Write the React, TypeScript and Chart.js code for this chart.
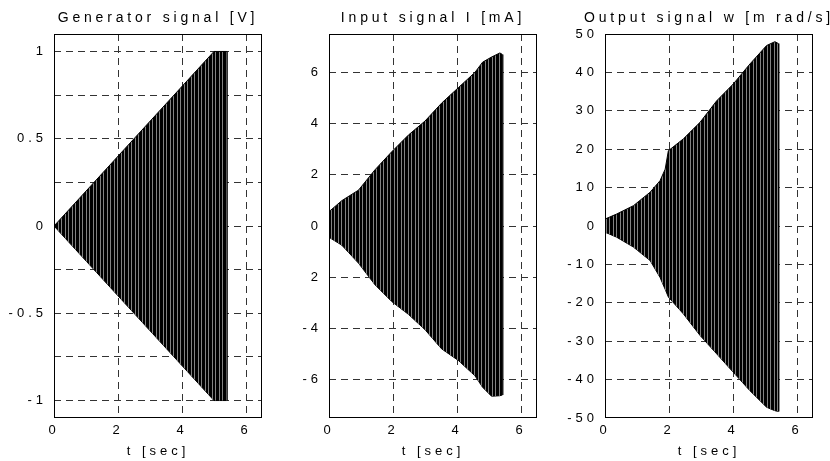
import React, { useEffect, useRef } from 'react';
import { Chart, registerables } from 'chart.js';

Chart.register(...registerables);

// ---------- data ----------
const timeTicks = [0, 2, 4, 6];
const timeTickLabels = ['0', '2', '4', '6'];

// Generator signal [V] : envelope of the oscillation
const genTime = [0, 5.0, 5.4];
const genUpper = [0, 1.0, 1.0];
const genLower = [0, -1.0, -1.0];
const genTicks = [-1, -0.75, -0.5, -0.25, 0, 0.25, 0.5, 0.75, 1];
const genTickLabels = ['-1', '', '-0.5', '', '0', '', '0.5', '', '1'];

// Input signal I [mA]
const inTime = [0, 0.4, 0.92, 1.44, 1.96, 2.48, 3.0, 3.52, 4.04, 4.56, 4.8, 5.08, 5.34, 5.42];
const inUpper = [0.56, 0.99, 1.4, 2.2, 2.9, 3.55, 4.1, 4.8, 5.4, 6.0, 6.4, 6.6, 6.76, 6.7];
const inLower = [-0.44, -0.75, -1.45, -2.3, -2.95, -3.45, -4.05, -4.8, -5.25, -5.85, -6.3, -6.65, -6.63, -6.6];
const inTicks = [-6, -4, -2, 0, 2, 4, 6];
const inTickLabels = ['-6', '-4', '2', '0', '2', '4', '6'];

// Output signal w [m rad/s]
const outTime = [0, 0.36, 0.89, 1.41, 1.72, 1.88, 1.98, 2.45, 2.97, 3.49, 4.01, 4.53, 5.05, 5.31, 5.42];
const outUpper = [1.8, 3.1, 5.3, 8.8, 11.8, 14.8, 19.6, 22.7, 27.0, 32.6, 37.0, 42.2, 47.0, 48.0, 47.5];
const outLower = [-1.6, -2.9, -5.5, -9.0, -13.4, -16.5, -18.5, -22.9, -28.5, -33.3, -38.1, -42.9, -47.2, -48.1, -48.3];
const outTicks = [-50, -40, -30, -20, -10, 0, 10, 20, 30, 40, 50];
const outTickLabels = ['-50', '-40', '-30', '-20', '-10', '0', '10', '20', '30', '40', '50'];

const FONT = '"Liberation Sans", Arial, sans-serif';
const FONT_SIZE = 13;
const SPACING = '4px';
const TITLE_SIZE = 14;
const TITLE_SPACING = 3.8;
const GRID = '#333';

type PanelCfg = {
  title: string;
  time: number[];
  upper: number[];
  lower: number[];
  yMin: number;
  yMax: number;
  yTicks: number[];
  yLabels: string[];
  canvasLeft: number;
  canvasWidth: number;
  plotLeft: number;
  plotRight: number;
};

const PLOT_TOP = 34;
const PLOT_BOTTOM = 418;
const H = 461;

const panels: PanelCfg[] = [
  {
    title: 'Generator signal [V]', time: genTime, upper: genUpper, lower: genLower,
    yMin: -1.1, yMax: 1.1, yTicks: genTicks, yLabels: genTickLabels,
    canvasLeft: 0, canvasWidth: 280, plotLeft: 54, plotRight: 262,
  },
  {
    title: 'Input signal I [mA]', time: inTime, upper: inUpper, lower: inLower,
    yMin: -7.5, yMax: 7.5, yTicks: inTicks, yLabels: inTickLabels,
    canvasLeft: 280, canvasWidth: 275, plotLeft: 329, plotRight: 537,
  },
  {
    title: 'Output signal w [m rad/s]', time: outTime, upper: outUpper, lower: outLower,
    yMin: -50, yMax: 50, yTicks: outTicks, yLabels: outTickLabels,
    canvasLeft: 555, canvasWidth: 275, plotLeft: 605, plotRight: 813,
  },
];

function makeStripePattern(ctx: CanvasRenderingContext2D): CanvasPattern | string {
  const c = document.createElement('canvas');
  c.width = 7;
  c.height = 1;
  const g = c.getContext('2d');
  if (!g) return '#111';
  g.fillStyle = '#000';
  g.fillRect(0, 0, 7, 1);
  g.fillStyle = '#828282';
  g.fillRect(2, 0, 1, 1);
  g.fillRect(5, 0, 1, 1);
  return ctx.createPattern(c, 'repeat') || '#111';
}

const spacingPlugin = {
  id: 'letterSpacing',
  beforeUpdate(chart: any) { (chart.ctx as any).letterSpacing = SPACING; },
  beforeLayout(chart: any) { (chart.ctx as any).letterSpacing = SPACING; },
  beforeDraw(chart: any) { (chart.ctx as any).letterSpacing = SPACING; },
};

function makeFramePlugin(title: string) {
  return {
    id: 'frameTitle',
    afterDraw(chart: any) {
      const { ctx, chartArea } = chart;
      const { left, right, top, bottom } = chartArea;
      ctx.save();
      ctx.strokeStyle = '#000';
      ctx.lineWidth = 1;
      ctx.setLineDash([]);
      ctx.strokeRect(left + 0.5, top + 0.5, right - left - 1, bottom - top - 1);
      ctx.fillStyle = '#000';
      (ctx as any).letterSpacing = `${TITLE_SPACING}px`;
      ctx.font = `${TITLE_SIZE}px ${FONT}`;
      ctx.textAlign = 'center';
      ctx.textBaseline = 'middle';
      ctx.fillText(title, (left + right) / 2, 18);
      ctx.restore();
    },
  };
}

function Panel({ cfg }: { cfg: PanelCfg }) {
  const ref = useRef<HTMLCanvasElement | null>(null);
  useEffect(() => {
    const canvas = ref.current;
    if (!canvas) return;
    const ctx = canvas.getContext('2d') as CanvasRenderingContext2D;
    const pattern = makeStripePattern(ctx);
    const upperPts = cfg.time.map((t, i) => ({ x: t, y: cfg.upper[i] }));
    const lowerPts = cfg.time.map((t, i) => ({ x: t, y: cfg.lower[i] }));
    const n = cfg.time.length - 1;
    const endEdge = [
      { x: cfg.time[n], y: cfg.lower[n] },
      { x: cfg.time[n], y: cfg.upper[n] },
    ];
    const yAxisWidth = cfg.plotLeft - cfg.canvasLeft;
    const rightPad = cfg.canvasLeft + cfg.canvasWidth - cfg.plotRight;
    const tickFont = { family: FONT, size: FONT_SIZE };
    const gridColor = (min: number, max: number) => (c: any) => {
      const v = c && c.tick ? c.tick.value : NaN;
      return v === min || v === max ? 'rgba(0,0,0,0)' : GRID;
    };

    const chart = new Chart(ctx, {
      type: 'line',
      data: {
        datasets: [
          {
            data: upperPts,
            borderColor: '#000',
            borderWidth: 1,
            pointRadius: 0,
            tension: 0,
            fill: '+1',
            backgroundColor: pattern as any,
          },
          {
            data: lowerPts,
            borderColor: '#000',
            borderWidth: 1,
            pointRadius: 0,
            tension: 0,
            fill: false,
          },
          {
            data: endEdge,
            borderColor: '#000',
            borderWidth: 2,
            pointRadius: 0,
            fill: false,
          },
        ],
      },
      options: {
        animation: false,
        responsive: false,
        maintainAspectRatio: false,
        devicePixelRatio: 1,
        events: [],
        layout: { padding: { left: 0, right: rightPad, top: PLOT_TOP, bottom: 0 } },
        plugins: {
          legend: { display: false },
          tooltip: { enabled: false },
          title: { display: false },
        },
        scales: {
          x: {
            type: 'linear',
            min: 0,
            max: 6.5,
            z: 1,
            afterBuildTicks: (s: any) => { s.ticks = timeTicks.map((v) => ({ value: v })); },
            afterFit: (s: any) => { s.height = H - PLOT_BOTTOM; },
            ticks: {
              color: '#000',
              font: tickFont,
              padding: 5,
              maxRotation: 0,
              autoSkip: false,
              callback: (_v: any, i: number) => timeTickLabels[i],
            },
            grid: { color: gridColor(0, 6.5), lineWidth: 1, drawTicks: false },
            border: { display: false, dash: [7, 5] },
            title: {
              display: true,
              text: 't [sec]',
              color: '#000',
              font: tickFont,
              padding: { top: 0, bottom: 2 },
            },
          },
          y: {
            type: 'linear',
            min: cfg.yMin,
            max: cfg.yMax,
            z: 1,
            afterBuildTicks: (s: any) => { s.ticks = cfg.yTicks.map((v) => ({ value: v })); },
            afterFit: (s: any) => { s.width = yAxisWidth; },
            ticks: {
              color: '#000',
              font: tickFont,
              padding: 7,
              autoSkip: false,
              callback: (_v: any, i: number) => cfg.yLabels[i],
            },
            grid: { color: gridColor(cfg.yMin, cfg.yMax), lineWidth: 1, drawTicks: false },
            border: { display: false, dash: [7, 5] },
          },
        },
      } as any,
      plugins: [spacingPlugin, makeFramePlugin(cfg.title)],
    });
    return () => chart.destroy();
  }, [cfg]);

  return (
    <canvas
      ref={ref}
      width={cfg.canvasWidth}
      height={H}
      style={{
        position: 'absolute',
        left: cfg.canvasLeft,
        top: 0,
        width: cfg.canvasWidth,
        height: H,
      }}
    />
  );
}

export default function App() {
  return (
    <div
      style={{
        position: 'absolute',
        left: 0,
        top: 0,
        width: 830,
        height: H,
        background: '#fff',
        overflow: 'hidden',
      }}
    >
      {panels.map((p) => (
        <Panel key={p.title} cfg={p} />
      ))}
    </div>
  );
}
